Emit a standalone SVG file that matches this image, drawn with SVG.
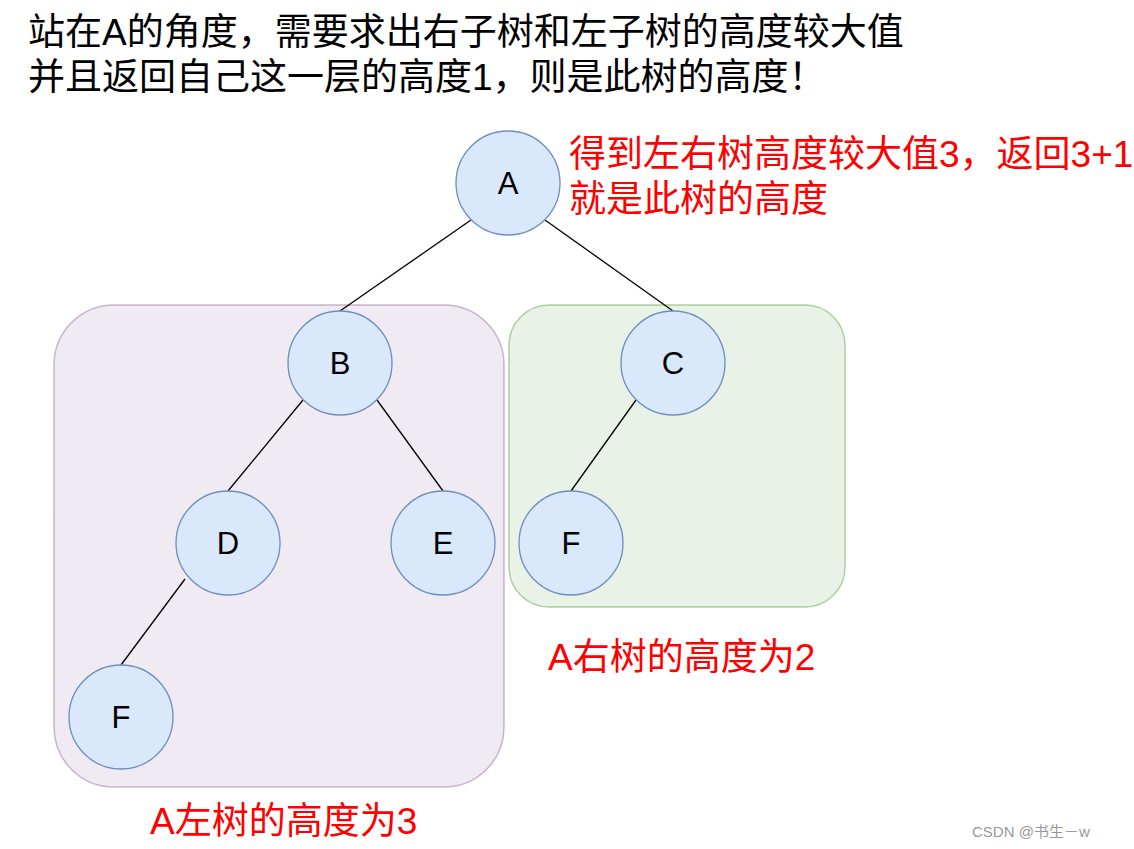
<svg xmlns="http://www.w3.org/2000/svg" width="1134" height="849" viewBox="0 0 1134 849">
<style>
.n{fill:#dae8fc;stroke:#6c8ebf;stroke-width:1.3}
.l{font-family:"Liberation Sans",Arial,sans-serif;font-size:31px;text-anchor:middle;dominant-baseline:central}
.t{font-family:"Liberation Sans","Noto Sans CJK SC",sans-serif;font-size:37px}
.r{fill:#ff0000}
</style>
<rect width="1134" height="849" fill="#fff"/>
<rect x="54" y="305" width="450" height="482" rx="60" fill="#e1d5e7" fill-opacity="0.5" stroke="#9673a6" stroke-opacity="0.5" stroke-width="1.5"/>
<rect x="509" y="305" width="336" height="302" rx="40" fill="#d5e8d4" fill-opacity="0.55" stroke="#82b366" stroke-opacity="0.6" stroke-width="1.5"/>
<g id="connectors" stroke="#000" stroke-width="1.3">
<line x1="471" y1="220" x2="340" y2="311"/>
<line x1="545" y1="220" x2="673" y2="311"/>
<line x1="303" y1="400" x2="228" y2="491"/>
<line x1="377" y1="400" x2="443" y2="491"/>
<line x1="636" y1="400" x2="571" y2="491"/>
<line x1="185" y1="579" x2="121" y2="665"/>
</g>
<g id="A"><circle class="n" cx="508" cy="183" r="52"/><text class="l" x="508" y="183">A</text></g>
<g id="B"><circle class="n" cx="340" cy="363" r="52"/><text class="l" x="340" y="363">B</text></g>
<g id="C"><circle class="n" cx="673" cy="363" r="52"/><text class="l" x="673" y="363">C</text></g>
<g id="D"><circle class="n" cx="228" cy="543" r="52"/><text class="l" x="228" y="543">D</text></g>
<g id="E"><circle class="n" cx="443" cy="543" r="52"/><text class="l" x="443" y="543">E</text></g>
<g id="F1"><circle class="n" cx="571" cy="543" r="52"/><text class="l" x="571" y="543">F</text></g>
<g id="F2"><circle class="n" cx="121" cy="717" r="52"/><text class="l" x="121" y="717">F</text></g>
<text class="t" x="28" y="45">站在A的角度，需要求出右子树和左子树的高度较大值</text>
<text class="t" x="28" y="90">并且返回自己这一层的高度1，则是此树的高度！</text>
<text class="t r" x="569" y="167">得到左右树高度较大值3，返回3+1</text>
<text class="t r" x="569" y="212">就是此树的高度</text>
<text class="t r" x="548" y="670">A右树的高度为2</text>
<text class="t r" x="150" y="834">A左树的高度为3</text>
<text x="972" y="837" font-family="Liberation Sans,Noto Sans CJK SC,sans-serif" font-size="15" fill="#999">CSDN @书生－w</text>
</svg>
